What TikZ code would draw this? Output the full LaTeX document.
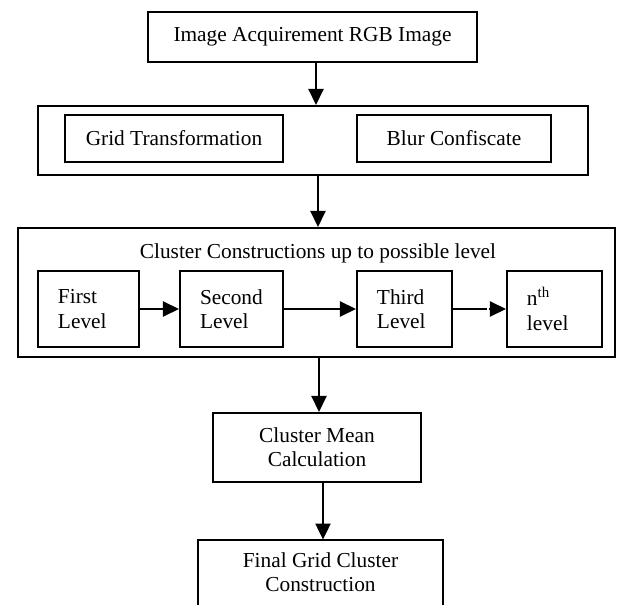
\documentclass[tikz,border=0pt]{standalone}
\usepackage{fontspec}
\setmainfont{Liberation Serif}
\usetikzlibrary{arrows.meta}
\begin{document}
\begin{tikzpicture}[x=0.5pt,y=-0.5pt,
  every node/.style={font=\fontsize{10.67pt}{12.2pt}\selectfont},
  box/.style={draw,line width=1pt,inner sep=0pt,align=center},
  lvl/.style={draw,line width=1pt,inner sep=0pt,minimum height=38pt,align=left},
  arr/.style={line width=1pt,-{Triangle[length=8pt,width=7.5pt]}}]
\useasboundingbox (0,0) rectangle (618,605);
% boxes
\node[box,minimum width=164.5pt,minimum height=25pt] (top) at (312.5,37) {Image Acquirement RGB Image};
\node[box,minimum width=275pt,minimum height=34.5pt] (box2) at (313,140.5) {};
\node[box,minimum width=109pt,minimum height=23.5pt] (grid) at (174,138.5) {Grid Transformation};
\node[box,minimum width=97pt,minimum height=23.5pt] (blur) at (454,138.5) {Blur Confiscate};
\node[box,minimum width=298.5pt,minimum height=64.5pt] (box3) at (316.5,292.5) {};
\node[anchor=base] (title) at (318,258) {Cluster Constructions up to possible level};
\node[lvl,minimum width=50.5pt,text width=30.5pt] (first) at (88.5,309) {First\\Level};
\node[lvl,minimum width=51.5pt,text width=31.5pt] (second) at (231.5,309) {Second\\Level};
\node[lvl,minimum width=47.5pt,text width=27.5pt] (third) at (404.5,309) {Third\\Level};
\node[lvl,minimum width=47.5pt,text width=27.5pt] (nth) at (554.5,309) {n\textsuperscript{th}\\level};
\node[box,minimum width=104pt,minimum height=34.5pt] (mean) at (317,447.5) {Cluster Mean\\Calculation};
\node[inner sep=0pt,minimum width=122.5pt,minimum height=32.5pt,align=center] (final) at (320.5,572.5) {Final Grid Cluster\\Construction};
\draw[line width=1pt] (final.south west) -- (final.north west) -- (final.north east) -- (final.south east);
% connectors
\draw[arr] ([xshift=1.75pt]top.south) -- ([xshift=1.75pt]top.south |- box2.north);
\draw[arr] ([xshift=2.5pt]box2.south) -- ([xshift=2.5pt]box2.south |- box3.north);
\draw[arr] (first.east) -- (second.west);
\draw[arr] (second.east) -- (third.west);
\draw[line width=0.7pt] (third.east) -- ++(34,0) coordinate (gapend);
\draw[arr] ([xshift=-8.5pt]nth.west) -- (nth.west);
\draw[arr] ([xshift=1pt]mean.north |- box3.south) -- ([xshift=1pt]mean.north);
\draw[arr] ([xshift=3pt]mean.south) -- ([xshift=3pt]mean.south |- final.north);
\end{tikzpicture}
\end{document}
